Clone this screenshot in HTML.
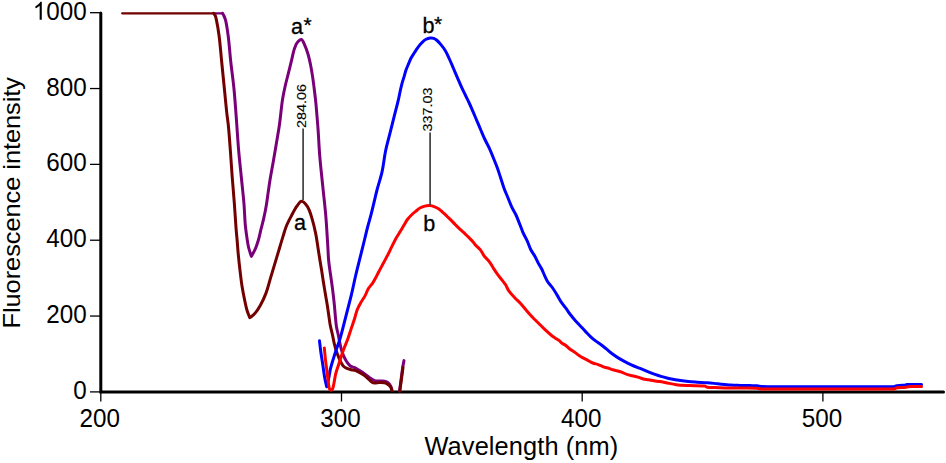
<!DOCTYPE html>
<html><head><meta charset="utf-8"><style>
html,body{margin:0;padding:0;background:#fff;}
svg{display:block;}
text{font-family:"Liberation Sans",sans-serif;fill:#000;}
</style></head><body>
<svg width="946" height="463" viewBox="0 0 946 463">
<rect width="946" height="463" fill="#fff"/>
<path d="M100.8,13 L100.8,391.9 L943.5,391.9" fill="none" stroke="#000" stroke-width="3" stroke-linecap="round" stroke-linejoin="miter"/>
<g fill="none" stroke-width="3.0" stroke-linejoin="round" stroke-linecap="round">
<path d="M214,13.3 L222.5,13.3" stroke="#7a007a" stroke-width="2.3"/>
<path d="M222.50,13.30 C222.93,14.03 223.37,14.60 223.80,15.50 C224.41,16.79 225.04,18.27 225.60,20.40 C226.58,24.10 227.42,30.13 228.20,36.00 C229.21,43.55 229.85,53.34 230.80,62.00 C231.75,70.67 233.03,79.33 233.90,88.00 C234.76,96.63 235.48,107.07 236.00,113.90 C236.34,118.37 236.48,120.52 236.80,125.00 C237.30,131.85 237.95,142.34 238.70,151.00 C239.45,159.67 240.43,168.34 241.30,177.00 C242.17,185.64 243.22,194.60 243.90,202.90 C244.53,210.55 244.74,219.01 245.30,225.00 C245.69,229.12 246.08,231.81 246.60,235.40 C247.16,239.29 247.72,243.80 248.60,247.50 C249.37,250.72 250.47,253.43 251.40,256.40 C252.67,254.00 254.07,251.79 255.20,249.20 C256.43,246.36 257.46,243.21 258.40,240.00 C259.41,236.57 260.13,232.76 261.00,229.20 C261.86,225.70 262.77,222.46 263.60,218.80 C264.52,214.74 265.45,210.22 266.20,205.90 C266.95,201.59 267.47,197.22 268.10,192.90 C268.73,188.59 269.24,184.69 270.00,180.00 C270.92,174.36 272.23,167.57 273.30,161.40 C274.36,155.30 275.38,149.27 276.40,143.20 C277.42,137.13 278.45,131.62 279.40,125.00 C280.53,117.11 281.44,106.16 282.60,99.00 C283.42,93.91 284.23,90.31 285.20,86.00 C286.17,81.68 287.33,77.40 288.40,73.10 C289.47,68.80 290.60,64.31 291.60,60.20 C292.52,56.44 293.17,52.51 294.20,49.40 C295.03,46.92 295.68,44.60 297.00,42.90 C298.17,41.40 300.15,39.26 301.40,39.50 C302.75,39.76 303.69,42.98 304.70,45.10 C305.90,47.61 306.97,50.64 307.90,53.70 C308.93,57.07 309.72,60.73 310.50,64.50 C311.34,68.60 312.05,73.09 312.70,77.40 C313.35,81.69 313.87,85.99 314.40,90.30 C314.93,94.62 315.47,98.97 315.90,103.30 C316.33,107.61 316.64,111.84 317.00,116.20 C317.37,120.67 317.72,124.56 318.10,129.80 C318.62,136.97 318.98,146.44 319.70,155.30 C320.48,164.97 321.68,175.50 322.70,185.60 C323.72,195.70 324.95,205.79 325.80,215.90 C326.65,225.99 327.30,238.06 327.80,246.20 C328.14,251.69 328.21,255.74 328.60,260.00 C328.94,263.69 329.42,266.76 329.90,270.30 C330.41,274.08 331.07,278.11 331.60,282.00 C332.13,285.87 332.63,289.72 333.10,293.60 C333.57,297.49 334.02,301.41 334.40,305.30 C334.78,309.17 335.04,313.17 335.40,316.90 C335.74,320.39 335.97,323.84 336.50,327.00 C336.97,329.84 337.66,332.01 338.30,335.00 C339.11,338.78 339.91,344.16 340.90,347.90 C341.69,350.85 342.45,353.28 343.50,355.70 C344.48,357.96 345.65,360.20 346.90,362.00 C347.98,363.55 348.97,365.00 350.40,366.00 C351.86,367.02 353.92,367.14 355.60,368.00 C357.36,368.89 359.06,370.23 360.70,371.30 C362.22,372.29 363.66,373.16 365.10,374.20 C366.56,375.26 367.86,376.55 369.40,377.60 C371.01,378.70 372.77,380.04 374.60,380.60 C376.37,381.14 378.30,380.82 380.20,381.00 C382.17,381.18 384.72,381.16 386.20,381.70 C387.20,382.06 387.80,382.55 388.50,383.20 C389.29,383.94 390.04,384.97 390.60,386.00 C391.18,387.06 391.47,388.33 391.90,389.50" stroke="#7a007a"/>
<path d="M399.6,391.0 L401.0,380.0 L402.7,367.1 L404.0,360.6" stroke="#7a007a"/>
<path d="M122.2,13.3 L214,13.3" stroke="#720000" stroke-width="2.3"/>
<path d="M213.60,13.30 C214.13,14.03 214.76,14.57 215.20,15.50 C215.80,16.77 216.05,18.29 216.50,20.40 C217.30,24.12 218.32,30.13 219.10,36.00 C220.11,43.55 220.83,53.33 221.70,62.00 C222.57,70.67 223.43,79.34 224.30,88.00 C225.17,96.64 226.13,107.07 226.90,113.90 C227.41,118.38 227.84,120.52 228.30,125.00 C229.01,131.84 229.75,142.33 230.40,151.00 C231.05,159.66 231.55,168.34 232.20,177.00 C232.85,185.64 233.65,194.26 234.30,202.90 C234.95,211.56 235.55,222.05 236.10,228.90 C236.46,233.38 236.76,236.04 237.10,240.00 C237.49,244.56 237.82,249.65 238.30,254.70 C238.81,260.07 239.46,265.94 240.10,271.30 C240.70,276.35 241.25,281.27 242.00,286.00 C242.70,290.45 243.55,294.77 244.40,298.90 C245.19,302.75 245.90,306.67 246.90,310.00 C247.75,312.83 248.83,315.13 249.80,317.70 C251.47,316.33 253.21,315.36 254.80,313.60 C256.79,311.41 258.65,308.33 260.40,305.20 C262.42,301.60 264.39,297.34 266.00,293.10 C267.68,288.66 268.80,283.77 270.20,279.10 C271.60,274.43 273.00,269.77 274.40,265.10 C275.80,260.43 277.20,255.77 278.60,251.10 C280.00,246.43 281.42,241.51 282.80,237.10 C284.05,233.12 285.04,229.38 286.50,225.80 C287.90,222.37 289.58,219.24 291.30,216.00 C293.05,212.71 294.97,208.84 296.90,206.20 C298.40,204.15 299.82,201.27 301.50,201.20 C303.35,201.12 305.94,204.33 307.60,206.80 C309.68,209.89 310.78,214.60 312.10,218.90 C313.55,223.64 314.78,229.02 315.80,234.10 C316.81,239.12 317.47,244.59 318.20,249.20 C318.82,253.10 319.33,256.44 319.90,260.00 C320.46,263.48 321.03,266.76 321.60,270.30 C322.20,274.07 322.78,278.11 323.40,282.00 C324.02,285.88 324.65,289.73 325.30,293.60 C325.95,297.49 326.68,301.40 327.30,305.30 C327.91,309.17 328.48,313.38 329.00,316.90 C329.43,319.84 329.67,322.17 330.20,325.00 C330.80,328.17 331.79,331.74 332.50,335.00 C333.18,338.10 333.65,341.09 334.40,344.10 C335.15,347.12 335.94,350.12 337.00,353.10 C338.09,356.16 339.63,359.82 340.90,362.20 C341.78,363.85 342.44,365.15 343.50,366.20 C344.47,367.17 345.66,367.82 346.90,368.40 C348.21,369.01 349.75,369.33 351.20,369.70 C352.65,370.07 354.11,370.08 355.60,370.60 C357.28,371.19 359.17,372.35 360.70,373.20 C361.99,373.91 363.07,374.48 364.20,375.30 C365.40,376.17 366.48,377.23 367.70,378.30 C369.07,379.51 370.67,381.41 372.00,382.20 C372.92,382.74 373.59,383.00 374.60,383.10 C375.92,383.24 377.69,382.56 379.30,382.50 C380.99,382.44 382.97,382.42 384.50,382.80 C385.82,383.13 386.97,383.69 388.00,384.40 C389.00,385.10 389.95,385.99 390.60,387.00 C391.25,388.02 391.47,389.33 391.90,390.50" stroke="#720000"/>
<path d="M399.8,391.0 L401.8,376.6 L403.0,367.5" stroke="#720000"/>
<path d="M319.50,340.80 C319.93,344.47 320.28,347.99 320.80,351.80 C321.37,355.96 322.15,360.47 322.80,364.80 C323.45,369.11 323.98,373.79 324.70,377.70 C325.31,381.01 326.03,383.77 326.70,386.80 C327.33,384.20 328.00,381.79 328.60,379.00 C329.28,375.81 329.72,372.01 330.50,368.70 C331.24,365.55 332.16,362.73 333.10,359.60 C334.11,356.24 335.28,352.53 336.40,349.20 C337.45,346.08 338.55,343.55 339.60,340.20 C340.89,336.07 342.15,330.96 343.40,326.20 C344.69,321.27 345.88,316.30 347.20,311.10 C348.61,305.55 350.19,299.82 351.60,293.90 C353.09,287.64 354.43,280.77 355.90,274.50 C357.30,268.56 358.75,263.04 360.20,257.20 C361.68,251.21 363.38,244.37 364.70,239.00 C365.75,234.73 366.50,231.33 367.50,227.50 C368.50,223.63 369.66,219.88 370.70,215.90 C371.80,211.70 372.85,207.23 373.90,202.90 C374.95,198.59 375.79,194.67 377.00,190.00 C378.45,184.40 380.69,177.96 382.10,171.60 C383.58,164.92 384.24,157.35 385.60,150.80 C386.84,144.85 388.40,139.52 389.80,133.90 C391.20,128.29 392.59,122.71 394.00,117.10 C395.42,111.47 397.20,104.99 398.30,100.20 C399.11,96.68 399.54,93.94 400.20,91.00 C400.81,88.26 401.42,85.59 402.10,83.10 C402.72,80.82 403.45,78.77 404.10,76.60 C404.75,74.44 405.25,72.24 406.00,70.10 C406.75,67.94 407.72,65.78 408.60,63.70 C409.45,61.69 410.21,59.66 411.20,57.80 C412.15,56.00 413.27,54.45 414.40,52.70 C415.63,50.80 416.94,48.59 418.30,46.80 C419.55,45.15 420.83,43.59 422.20,42.30 C423.44,41.13 424.74,40.03 426.10,39.30 C427.35,38.64 428.69,38.16 430.00,38.00 C431.26,37.85 432.68,37.93 433.80,38.30 C434.82,38.64 435.55,39.23 436.50,40.00 C437.81,41.07 439.31,42.74 440.70,44.40 C442.31,46.31 444.06,48.51 445.50,50.90 C447.06,53.50 448.28,56.59 449.60,59.50 C450.94,62.45 452.20,65.49 453.50,68.50 C454.80,71.52 456.10,74.58 457.40,77.60 C458.70,80.61 459.97,83.66 461.30,86.60 C462.60,89.46 463.97,92.24 465.30,95.00 C466.60,97.70 467.94,100.26 469.20,103.00 C470.51,105.83 471.73,108.77 473.00,111.70 C474.30,114.70 475.60,117.76 476.90,120.80 C478.20,123.86 479.49,126.95 480.80,130.00 C482.09,133.02 483.29,135.97 484.70,139.00 C486.18,142.17 488.00,145.31 489.50,148.60 C491.04,151.97 492.46,155.69 493.80,159.00 C495.01,162.00 496.10,164.58 497.20,167.60 C498.40,170.89 499.55,174.53 500.70,178.00 C501.85,181.46 502.90,185.12 504.10,188.40 C505.21,191.42 506.37,194.00 507.60,197.00 C508.96,200.30 510.40,204.24 511.90,207.40 C513.21,210.17 514.75,212.35 516.00,215.00 C517.29,217.74 518.35,220.72 519.50,223.60 C520.65,226.49 521.63,229.44 522.90,232.30 C524.19,235.20 525.89,238.01 527.20,240.90 C528.49,243.74 529.35,246.83 530.70,249.50 C531.97,252.01 533.70,254.14 535.00,256.50 C536.26,258.78 537.23,261.24 538.40,263.40 C539.47,265.39 540.70,267.04 541.70,269.00 C542.74,271.03 543.53,273.30 544.50,275.40 C545.46,277.47 546.26,279.54 547.50,281.50 C548.82,283.58 550.76,285.34 552.30,287.50 C553.97,289.84 555.54,292.56 557.10,295.10 C558.64,297.62 560.02,300.36 561.60,302.70 C563.06,304.87 564.73,306.70 566.20,308.70 C567.63,310.64 568.83,312.59 570.30,314.50 C571.82,316.49 573.52,318.48 575.20,320.40 C576.88,322.31 578.67,324.13 580.40,326.00 C582.13,327.87 583.86,329.78 585.60,331.60 C587.30,333.38 588.95,335.19 590.70,336.80 C592.39,338.35 594.14,339.75 595.90,341.10 C597.61,342.41 599.38,343.51 601.10,344.80 C602.85,346.11 604.50,347.45 606.30,348.90 C608.28,350.50 610.34,352.39 612.50,354.00 C614.70,355.63 617.16,357.23 619.40,358.60 C621.42,359.83 623.31,360.86 625.30,361.90 C627.28,362.93 629.30,363.89 631.30,364.80 C633.26,365.69 635.23,366.50 637.20,367.30 C639.16,368.10 641.14,368.80 643.10,369.60 C645.07,370.40 647.02,371.30 649.00,372.10 C650.98,372.90 652.99,373.68 655.00,374.40 C656.99,375.11 659.00,375.80 661.00,376.40 C662.97,376.99 664.93,377.52 666.90,378.00 C668.86,378.48 670.82,378.92 672.80,379.30 C674.79,379.68 676.57,379.96 678.80,380.30 C681.60,380.73 685.20,381.28 688.30,381.60 C691.26,381.90 693.97,382.02 697.00,382.20 C700.31,382.39 703.95,382.43 707.40,382.70 C710.85,382.97 714.07,383.42 717.70,383.80 C721.78,384.22 726.72,384.84 730.70,385.10 C734.05,385.32 736.84,385.32 740.00,385.40 C743.27,385.49 746.96,385.53 750.00,385.60 C752.54,385.66 754.87,385.60 757.00,385.80 C758.81,385.97 760.13,386.43 762.00,386.60 C764.35,386.82 766.92,386.76 770.00,386.80 C774.22,386.85 780.00,386.80 785.00,386.80 C790.00,386.80 795.00,386.80 800.00,386.80 C805.00,386.80 810.00,386.80 815.00,386.80 C820.00,386.80 825.00,386.80 830.00,386.80 C835.00,386.80 840.00,386.80 845.00,386.80 C850.00,386.80 855.00,386.80 860.00,386.80 C865.00,386.80 869.70,386.80 875.00,386.80 C880.96,386.80 887.67,386.80 894.00,386.80 C895.00,386.40 895.73,385.88 897.00,385.60 C899.00,385.16 902.33,385.33 905.00,385.20 C905.67,385.00 906.12,384.74 907.00,384.60 C908.61,384.34 911.63,384.43 914.00,384.40 C916.46,384.36 919.00,384.40 921.50,384.40" stroke="#0000ff"/>
<path d="M324.30,348.00 C324.73,352.30 325.10,356.60 325.60,360.90 C326.10,365.20 326.79,369.75 327.30,373.80 C327.75,377.40 328.03,381.21 328.50,384.00 C328.83,385.97 328.99,387.93 329.60,389.00 C329.97,389.66 330.52,390.29 331.00,390.30 C331.49,390.31 332.09,389.66 332.50,389.00 C333.16,387.93 333.36,385.97 333.80,384.00 C334.42,381.21 334.85,377.18 335.70,373.80 C336.57,370.35 337.82,367.16 339.00,363.50 C340.36,359.30 341.86,354.25 343.40,350.00 C344.81,346.12 346.48,342.64 347.80,339.00 C349.07,335.51 350.05,332.05 351.20,328.60 C352.35,325.16 353.66,321.59 354.70,318.30 C355.64,315.32 356.15,312.36 357.20,309.70 C358.18,307.22 359.42,305.07 360.70,302.80 C362.01,300.47 363.71,298.27 365.00,295.90 C366.28,293.54 367.06,290.83 368.40,288.60 C369.68,286.48 371.48,284.78 372.80,282.80 C374.07,280.88 375.17,278.82 376.20,276.90 C377.15,275.13 377.80,273.62 378.80,271.70 C380.06,269.27 381.74,266.23 383.20,263.50 C384.64,260.79 386.09,258.16 387.50,255.40 C388.95,252.56 390.35,249.59 391.80,246.70 C393.25,243.82 394.69,240.79 396.20,238.10 C397.59,235.62 399.15,233.35 400.50,231.10 C401.74,229.03 402.83,227.06 404.00,225.10 C405.13,223.20 406.11,221.24 407.40,219.50 C408.68,217.77 410.21,216.15 411.70,214.70 C413.11,213.33 414.62,212.17 416.10,211.00 C417.52,209.87 418.91,208.63 420.40,207.80 C421.78,207.03 423.17,206.47 424.70,206.10 C426.33,205.71 428.21,205.46 429.90,205.60 C431.55,205.74 433.22,206.34 434.70,206.90 C436.07,207.42 437.28,208.00 438.50,208.80 C439.82,209.67 441.00,210.88 442.30,212.00 C443.70,213.20 445.19,214.47 446.60,215.80 C448.05,217.17 449.47,218.65 450.90,220.10 C452.34,221.55 453.75,223.05 455.20,224.50 C456.65,225.95 458.12,227.43 459.60,228.80 C461.03,230.12 462.49,231.27 463.90,232.60 C465.35,233.97 466.77,235.47 468.20,236.90 C469.63,238.33 471.27,239.80 472.50,241.20 C473.55,242.39 474.11,243.46 475.20,244.70 C476.61,246.30 478.89,248.00 480.40,249.90 C481.89,251.77 482.74,254.05 484.20,256.00 C485.72,258.03 487.87,259.77 489.40,261.80 C490.89,263.77 491.98,265.98 493.30,268.00 C494.59,269.98 495.82,271.88 497.20,273.80 C498.62,275.78 500.25,277.81 501.70,279.70 C503.05,281.46 504.44,282.99 505.60,284.80 C506.78,286.65 507.36,288.73 508.70,290.70 C510.28,293.02 512.64,295.50 514.70,297.70 C516.68,299.82 518.90,301.64 520.80,303.70 C522.63,305.68 524.11,307.72 525.90,309.80 C527.83,312.04 529.93,314.50 532.00,316.70 C534.00,318.83 536.00,320.70 538.10,322.80 C540.33,325.03 542.66,327.52 545.00,329.70 C547.26,331.81 550.02,334.22 551.90,335.70 C553.11,336.65 553.87,337.15 555.00,337.90 C556.31,338.77 558.15,339.68 559.30,340.60 C560.20,341.32 560.60,342.08 561.50,342.80 C562.65,343.72 564.41,344.46 565.80,345.50 C567.28,346.61 568.62,348.19 570.10,349.30 C571.49,350.34 572.99,351.03 574.40,352.00 C575.85,352.99 577.25,354.21 578.70,355.20 C580.11,356.17 581.54,357.08 583.00,357.90 C584.44,358.71 585.86,359.30 587.40,360.10 C589.11,360.99 590.96,362.24 592.80,363.00 C594.56,363.73 596.42,363.97 598.20,364.60 C599.99,365.24 601.71,366.16 603.50,366.80 C605.28,367.43 607.23,367.87 608.90,368.40 C610.37,368.87 611.71,369.42 613.00,369.80 C614.13,370.13 615.00,370.27 616.20,370.60 C617.77,371.03 619.82,371.57 621.60,372.20 C623.42,372.84 625.18,373.80 627.00,374.40 C628.78,374.99 630.60,375.35 632.40,375.80 C634.20,376.25 636.01,376.57 637.80,377.10 C639.61,377.64 641.39,378.55 643.20,379.00 C644.95,379.44 646.73,379.50 648.50,379.80 C650.29,380.10 652.04,380.51 653.90,380.80 C655.87,381.11 657.99,381.28 660.00,381.60 C661.99,381.92 663.66,382.28 665.90,382.70 C668.88,383.26 672.63,384.22 676.30,384.70 C680.35,385.23 684.69,385.37 689.20,385.60 C694.15,385.85 701.82,385.45 704.80,386.10 C706.07,386.38 706.28,386.94 707.40,387.20 C709.24,387.62 712.26,387.49 715.00,387.60 C718.22,387.73 721.72,387.82 725.50,387.90 C729.94,387.99 734.97,388.04 740.00,388.10 C745.44,388.17 753.02,388.00 757.00,388.30 C759.17,388.46 760.13,388.86 762.00,389.00 C764.35,389.18 766.92,389.08 770.00,389.10 C774.22,389.13 780.00,389.10 785.00,389.10 C790.00,389.10 795.00,389.10 800.00,389.10 C805.00,389.10 810.00,389.10 815.00,389.10 C820.00,389.10 825.00,389.10 830.00,389.10 C835.00,389.10 840.00,389.10 845.00,389.10 C850.00,389.10 855.00,389.10 860.00,389.10 C865.00,389.10 869.70,389.10 875.00,389.10 C880.96,389.10 887.67,389.10 894.00,389.10 C895.00,388.67 895.73,388.10 897.00,387.80 C898.99,387.33 902.33,387.53 905.00,387.40 C906.00,387.20 906.82,386.94 908.00,386.80 C909.65,386.61 911.89,386.64 914.00,386.60 C916.36,386.56 919.00,386.60 921.50,386.60" stroke="#ff0000"/>
</g>
<g stroke="#000" stroke-width="1.3">
<line x1="90" y1="12.70" x2="101" y2="12.70"/>
<line x1="90" y1="88.54" x2="101" y2="88.54"/>
<line x1="90" y1="164.38" x2="101" y2="164.38"/>
<line x1="90" y1="240.22" x2="101" y2="240.22"/>
<line x1="90" y1="316.06" x2="101" y2="316.06"/>
<line x1="90" y1="391.90" x2="101" y2="391.90"/>
<line x1="100.80" y1="392" x2="100.80" y2="401.5"/>
<line x1="341.50" y1="392" x2="341.50" y2="401.5"/>
<line x1="582.20" y1="392" x2="582.20" y2="401.5"/>
<line x1="822.90" y1="392" x2="822.90" y2="401.5"/>
</g>
<g stroke="#404040" stroke-width="1.7">
<line x1="303.1" y1="128.5" x2="303.1" y2="200"/>
<line x1="430.1" y1="132.5" x2="430.1" y2="205"/>
</g>
<text transform="translate(86.7,19.70) scale(0.97,1)" text-anchor="end" font-size="25">000</text>
<path transform="translate(32.75,19.70) scale(0.01184,-0.01221)" d="M763 0L583 0L583 1147Q518 1085 412 1023Q307 961 223 930L223 1104Q374 1175 487 1276Q600 1377 647 1472L763 1472Z" fill="#000"/>
<text transform="translate(86.7,95.54) scale(0.97,1)" text-anchor="end" font-size="25">800</text>
<text transform="translate(86.7,171.38) scale(0.97,1)" text-anchor="end" font-size="25">600</text>
<text transform="translate(86.7,247.22) scale(0.97,1)" text-anchor="end" font-size="25">400</text>
<text transform="translate(86.7,323.06) scale(0.97,1)" text-anchor="end" font-size="25">200</text>
<text transform="translate(86.7,398.90) scale(0.97,1)" text-anchor="end" font-size="25">0</text>
<text transform="translate(99.80,427) scale(0.97,1)" text-anchor="middle" font-size="25">200</text>
<text transform="translate(340.50,427) scale(0.97,1)" text-anchor="middle" font-size="25">300</text>
<text transform="translate(581.20,427) scale(0.97,1)" text-anchor="middle" font-size="25">400</text>
<text transform="translate(821.90,427) scale(0.97,1)" text-anchor="middle" font-size="25">500</text>
<text x="424.5" y="455" font-size="25.4" letter-spacing="0.1">Wavelength (nm)</text>
<text transform="translate(19.9,328.5) rotate(-90) scale(1.054,1)" font-size="24">Fluorescence intensity</text>
<text transform="translate(305.5,128) rotate(-90) scale(1.2,1)" font-size="12" stroke="#000" stroke-width="0.12">284.06</text>
<text transform="translate(432,131.5) rotate(-90) scale(1.2,1)" font-size="12" stroke="#000" stroke-width="0.12">337.03</text>
<g font-size="21.6" stroke="#000" stroke-width="0.3">
<text x="291" y="33.6">a</text>
<text x="303.6" y="31.5" font-size="21">*</text>
<text x="294" y="229.9">a</text>
<text x="422.4" y="32.9">b</text>
<text x="433.9" y="30.6" font-size="21">*</text>
<text x="423.3" y="231">b</text>
</g>
</svg>
</body></html>
